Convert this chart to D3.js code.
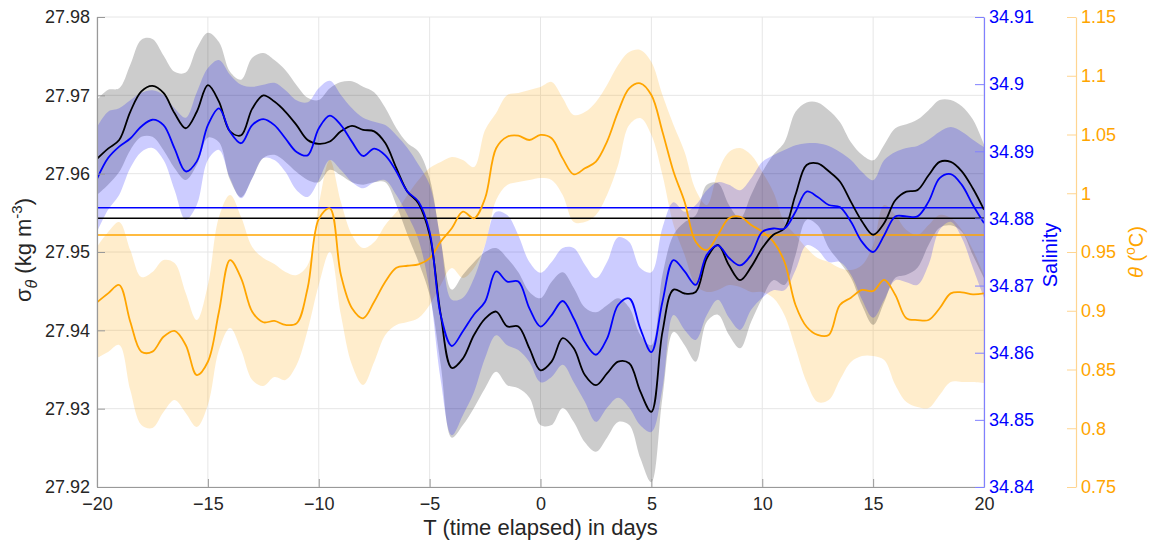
<!DOCTYPE html>
<html>
<head>
<meta charset="utf-8">
<script src="https://cdn.jsdelivr.net/npm/d3@7"></script>
<style>
  body { margin: 0; background: #fff; }
  svg text { font-family: "Liberation Sans", Arial, Helvetica, sans-serif; }
</style>
</head>
<body>
<svg id="chart"></svg>
<script>
// time axis, days relative to event
var days = [
  -20, -19.5, -19, -18.5, -18, -17.5, -17, -16.5, -16, -15.5,
  -15, -14.5, -14, -13.5, -13, -12.5, -12, -11.5, -11, -10.5,
  -10, -9.5, -9, -8.5, -8, -7.5, -7, -6.5, -6, -5.5,
  -5, -4.5, -4, -3.5, -3, -2.5, -2, -1.5, -1, -0.5,
  0, 0.5, 1, 1.5, 2, 2.5, 3, 3.5, 4, 4.5,
  5, 5.5, 6, 6.5, 7, 7.5, 8, 8.5, 9, 9.5,
  10, 10.5, 11, 11.5, 12, 12.5, 13, 13.5, 14, 14.5,
  15, 15.5, 16, 16.5, 17, 17.5, 18, 18.5, 19, 19.5,
  20
];

// potential density sigma_theta (kg m-3)
var sigmaMean = [
  27.9619, 27.9632, 27.9643, 27.9679, 27.9705, 27.9712, 27.9703, 27.9677, 27.9658, 27.9679,
  27.9713, 27.9692, 27.9654, 27.9649, 27.9683, 27.9700, 27.9692, 27.9679, 27.9662, 27.9643,
  27.9638, 27.9641, 27.9654, 27.9661, 27.9656, 27.9654, 27.9639, 27.9607, 27.9577, 27.9562,
  27.9522, 27.9420, 27.9352, 27.9364, 27.9394, 27.9415, 27.9424, 27.9405, 27.9405, 27.9377,
  27.9349, 27.9360, 27.9390, 27.9377, 27.9343, 27.9330, 27.9345, 27.9360, 27.9358, 27.9322,
  27.9296, 27.9398, 27.9452, 27.9447, 27.9449, 27.9492, 27.9509, 27.9483, 27.9464, 27.9481,
  27.9505, 27.9522, 27.9530, 27.9573, 27.9611, 27.9613, 27.9603, 27.9590, 27.9564, 27.9539,
  27.9522, 27.9537, 27.9566, 27.9577, 27.9579, 27.9598, 27.9615, 27.9615, 27.9603, 27.9581,
  27.9554
];
var sigmaHi = [
  27.9694, 27.9707, 27.9709, 27.9739, 27.9771, 27.9772, 27.9751, 27.9730, 27.9729, 27.9760,
  27.9780, 27.9768, 27.9730, 27.9720, 27.9748, 27.9754, 27.9745, 27.9732, 27.9713, 27.9697,
  27.9694, 27.9709, 27.9717, 27.9718, 27.9711, 27.9704, 27.9684, 27.9658, 27.9639, 27.9628,
  27.9594, 27.9515, 27.9452, 27.9471, 27.9487, 27.9500, 27.9505, 27.9492, 27.9474, 27.9449,
  27.9441, 27.9462, 27.9474, 27.9454, 27.9429, 27.9423, 27.9432, 27.9441, 27.9429, 27.9394,
  27.9381, 27.9471, 27.9522, 27.9538, 27.9547, 27.9586, 27.9588, 27.9560, 27.9543, 27.9573,
  27.9602, 27.9624, 27.9640, 27.9679, 27.9691, 27.9691, 27.9681, 27.9666, 27.9640, 27.9624,
  27.9617, 27.9637, 27.9658, 27.9663, 27.9669, 27.9681, 27.9694, 27.9694, 27.9686, 27.9669,
  27.9637
];
var sigmaLo = [
  27.9573, 27.9586, 27.9602, 27.9630, 27.9647, 27.9647, 27.9630, 27.9607, 27.9592, 27.9611,
  27.9646, 27.9640, 27.9592, 27.9570, 27.9594, 27.9620, 27.9624, 27.9615, 27.9602, 27.9592,
  27.9589, 27.9605, 27.9598, 27.9589, 27.9586, 27.9589, 27.9589, 27.9560, 27.9522, 27.9487,
  27.9445, 27.9356, 27.9263, 27.9279, 27.9301, 27.9326, 27.9347, 27.9330, 27.9326, 27.9314,
  27.9279, 27.9279, 27.9301, 27.9283, 27.9257, 27.9245, 27.9263, 27.9283, 27.9279, 27.9237,
  27.9206, 27.9314, 27.9398, 27.9381, 27.9360, 27.9411, 27.9420, 27.9394, 27.9377, 27.9411,
  27.9441, 27.9464, 27.9458, 27.9496, 27.9541, 27.9534, 27.9505, 27.9487, 27.9467, 27.9432,
  27.9407, 27.9436, 27.9467, 27.9471, 27.9480, 27.9509, 27.9531, 27.9534, 27.9526, 27.9496,
  27.9467
];

// salinity
var salMean = [
  34.8859, 34.8890, 34.8907, 34.8919, 34.8937, 34.8947, 34.8939, 34.8904, 34.8870, 34.8885,
  34.8939, 34.8964, 34.8929, 34.8912, 34.8939, 34.8948, 34.8939, 34.8919, 34.8899, 34.8894,
  34.8934, 34.8953, 34.8939, 34.8914, 34.8893, 34.8904, 34.8894, 34.8870, 34.8840, 34.8825,
  34.8780, 34.8656, 34.8610, 34.8632, 34.8657, 34.8676, 34.8721, 34.8706, 34.8706, 34.8666,
  34.8639, 34.8656, 34.8677, 34.8651, 34.8616, 34.8597, 34.8621, 34.8671, 34.8681, 34.8636,
  34.8601, 34.8676, 34.8738, 34.8721, 34.8701, 34.8746, 34.8760, 34.8741, 34.8730, 34.8746,
  34.8780, 34.8785, 34.8785, 34.8810, 34.8840, 34.8832, 34.8820, 34.8817, 34.8795, 34.8765,
  34.8750, 34.8775, 34.8803, 34.8803, 34.8803, 34.8825, 34.8860, 34.8866, 34.8850, 34.8820,
  34.8793
];
var salHi = [
  34.8936, 34.8959, 34.8964, 34.8976, 34.8987, 34.8991, 34.8984, 34.8964, 34.8950, 34.8988,
  34.9024, 34.9036, 34.9014, 34.8999, 34.8996, 34.8999, 34.9002, 34.8991, 34.8976, 34.8973,
  34.8994, 34.9005, 34.8984, 34.8964, 34.8950, 34.8944, 34.8939, 34.8924, 34.8905, 34.8880,
  34.8850, 34.8768, 34.8679, 34.8682, 34.8711, 34.8760, 34.8810, 34.8805, 34.8775, 34.8735,
  34.8719, 34.8735, 34.8756, 34.8756, 34.8731, 34.8711, 34.8735, 34.8772, 34.8765, 34.8726,
  34.8720, 34.8786, 34.8824, 34.8810, 34.8820, 34.8842, 34.8854, 34.8850, 34.8842, 34.8860,
  34.8884, 34.8894, 34.8902, 34.8909, 34.8912, 34.8912, 34.8908, 34.8899, 34.8887, 34.8869,
  34.8857, 34.8887, 34.8899, 34.8905, 34.8908, 34.8917, 34.8929, 34.8936, 34.8929, 34.8917,
  34.8906
];
var salLo = [
  34.8780, 34.8813, 34.8835, 34.8875, 34.8899, 34.8905, 34.8887, 34.8842, 34.8798, 34.8820,
  34.8887, 34.8902, 34.8860, 34.8830, 34.8860, 34.8890, 34.8887, 34.8869, 34.8842, 34.8832,
  34.8857, 34.8887, 34.8872, 34.8854, 34.8845, 34.8854, 34.8857, 34.8835, 34.8805, 34.8768,
  34.8693, 34.8559, 34.8477, 34.8507, 34.8541, 34.8592, 34.8626, 34.8611, 34.8604, 34.8586,
  34.8556, 34.8564, 34.8582, 34.8556, 34.8527, 34.8497, 34.8518, 34.8533, 34.8518, 34.8492,
  34.8482, 34.8547, 34.8656, 34.8634, 34.8619, 34.8656, 34.8679, 34.8652, 34.8634, 34.8664,
  34.8682, 34.8693, 34.8693, 34.8723, 34.8760, 34.8753, 34.8735, 34.8735, 34.8716, 34.8679,
  34.8652, 34.8679, 34.8708, 34.8705, 34.8701, 34.8731, 34.8783, 34.8795, 34.8771, 34.8726,
  34.8682
];

// potential temperature theta (degC)
var thetaMean = [
  0.9072, 0.9148, 0.9219, 0.8907, 0.8652, 0.8652, 0.8779, 0.8828, 0.8709, 0.8453,
  0.8566, 0.8992, 0.9430, 0.9276, 0.8992, 0.8902, 0.8913, 0.8879, 0.8893, 0.9194,
  0.9780, 0.9872, 0.9304, 0.9021, 0.8936, 0.9077, 0.9247, 0.9366, 0.9383, 0.9395,
  0.9446, 0.9588, 0.9702, 0.9843, 0.9787, 0.9957, 1.0383, 1.0481, 1.0490, 1.0453,
  1.0496, 1.0468, 1.0297, 1.0161, 1.0212, 1.0269, 1.0439, 1.0694, 1.0893, 1.0936,
  1.0836, 1.0524, 1.0183, 0.9926, 0.9588, 0.9517, 0.9645, 0.9787, 0.9800, 0.9730,
  0.9673, 0.9588, 0.9417, 0.9049, 0.8864, 0.8794, 0.8794, 0.9049, 0.9111, 0.9177,
  0.9168, 0.9262, 0.9134, 0.8936, 0.8921, 0.8921, 0.9021, 0.9148, 0.9157, 0.9140,
  0.9148
];
var thetaHi = [
  0.9543, 0.9670, 0.9755, 0.9517, 0.9287, 0.9330, 0.9432, 0.9406, 0.9151, 0.8921,
  0.9219, 0.9798, 0.9985, 0.9798, 0.9543, 0.9449, 0.9398, 0.9330, 0.9304, 0.9389,
  0.9900, 1.0283, 0.9926, 0.9645, 0.9534, 0.9585, 0.9730, 0.9840, 0.9985, 1.0113,
  1.0215, 1.0266, 1.0309, 1.0283, 1.0223, 1.0538, 1.0683, 1.0836, 1.0853, 1.0879,
  1.0904, 1.0947, 1.0811, 1.0666, 1.0691, 1.0777, 1.0921, 1.1091, 1.1202, 1.1219,
  1.1117, 1.0836, 1.0581, 1.0351, 1.0028, 0.9900, 1.0181, 1.0351, 1.0385, 1.0326,
  1.0181, 1.0011, 0.9755, 0.9645, 0.9534, 0.9449, 0.9415, 0.9364, 0.9347, 0.9389,
  0.9560, 0.9900, 0.9815, 0.9687, 0.9645, 0.9730, 0.9815, 0.9789, 0.9687, 0.9517,
  0.9304
];
var thetaLo = [
  0.8598, 0.8649, 0.8709, 0.8326, 0.8028, 0.8002, 0.8138, 0.8240, 0.8130, 0.8011,
  0.8198, 0.8666, 0.8853, 0.8666, 0.8411, 0.8360, 0.8436, 0.8411, 0.8538, 0.8836,
  0.9219, 0.9500, 0.8964, 0.8538, 0.8368, 0.8564, 0.8794, 0.8879, 0.8904, 0.8938,
  0.9049, 0.9219, 0.9364, 0.9279, 0.9364, 0.9560, 0.9943, 1.0070, 1.0096, 1.0113,
  1.0130, 1.0113, 0.9985, 0.9755, 0.9755, 0.9815, 0.9985, 1.0240, 1.0581, 1.0640,
  1.0496, 1.0155, 0.9730, 0.9474, 0.9219, 0.9160, 0.9177, 0.9219, 0.9202, 0.9160,
  0.9160, 0.9109, 0.8964, 0.8683, 0.8394, 0.8223, 0.8240, 0.8411, 0.8564, 0.8615,
  0.8615, 0.8581, 0.8368, 0.8223, 0.8181, 0.8172, 0.8283, 0.8394, 0.8394, 0.8394,
  0.8385
];

// reference (whole-record mean) levels
var sigmaRef = 27.9543;
var salRef = 34.8816;
var thetaRef = 0.9645;

var dayTicks = [-20, -15, -10, -5, 0, 5, 10, 15, 20];
var sigmaTicks = [27.92, 27.93, 27.94, 27.95, 27.96, 27.97, 27.98];
var salTicks = [34.84, 34.85, 34.86, 34.87, 34.88, 34.89, 34.9, 34.91];
var thetaTicks = [0.75, 0.8, 0.85, 0.9, 0.95, 1, 1.05, 1.1, 1.15];

var width = 1149,
    height = 543;
var plot = { left: 97, right: 984, top: 17, bottom: 487 };
var thetaAxisX = 1076;

var svg = d3.select("#chart")
  .attr("width", width)
  .attr("height", height);

var x = d3.scaleLinear().domain([-20, 20]).range([plot.left, plot.right]);
var ySigma = d3.scaleLinear().domain([27.92, 27.98]).range([plot.bottom, plot.top]);
var ySal = d3.scaleLinear().domain([34.84, 34.91]).range([plot.bottom, plot.top]);
var yTheta = d3.scaleLinear().domain([0.75, 1.15]).range([plot.bottom, plot.top]);

var trimNum = function(v) { return String(+v.toFixed(2)); };

function series(mean, lo, hi) {
  return days.map(function(d, i) {
    return { day: d, mean: mean[i], lo: lo[i], hi: hi[i] };
  });
}

var sigmaData = series(sigmaMean, sigmaLo, sigmaHi);
var salData = series(salMean, salLo, salHi);
var thetaData = series(thetaMean, thetaLo, thetaHi);

svg.append("defs").append("clipPath")
    .attr("id", "plot-clip")
  .append("rect")
    .attr("x", plot.left)
    .attr("y", plot.top)
    .attr("width", plot.right - plot.left)
    .attr("height", plot.bottom - plot.top);

// grid
var grid = svg.append("g").attr("class", "grid");
grid.selectAll("line.vg")
  .data(dayTicks)
  .enter().append("line")
    .attr("class", "vg")
    .attr("x1", function(d) { return x(d); })
    .attr("x2", function(d) { return x(d); })
    .attr("y1", plot.top)
    .attr("y2", plot.bottom)
    .attr("stroke", "#e6e6e6");
grid.selectAll("line.hg")
  .data(sigmaTicks)
  .enter().append("line")
    .attr("class", "hg")
    .attr("x1", plot.left)
    .attr("x2", plot.right)
    .attr("y1", function(d) { return ySigma(d); })
    .attr("y2", function(d) { return ySigma(d); })
    .attr("stroke", "#e6e6e6");

var body = svg.append("g").attr("clip-path", "url(#plot-clip)");

function drawBand(data, y, color) {
  var area = d3.area()
    .x(function(d) { return x(d.day); })
    .y0(function(d) { return y(d.lo); })
    .y1(function(d) { return y(d.hi); })
    .curve(d3.curveCatmullRom);
  body.append("path")
    .datum(data)
    .attr("d", area)
    .attr("fill", color)
    .attr("fill-opacity", 0.2)
    .attr("stroke", "none");
}

function drawMean(data, y, color) {
  var line = d3.line()
    .x(function(d) { return x(d.day); })
    .y(function(d) { return y(d.mean); })
    .curve(d3.curveCatmullRom);
  body.append("path")
    .datum(data)
    .attr("d", line)
    .attr("fill", "none")
    .attr("stroke", color)
    .attr("stroke-width", 1.8);
}

function drawRef(value, y, color) {
  body.append("line")
    .attr("x1", plot.left)
    .attr("x2", plot.right)
    .attr("y1", y(value))
    .attr("y2", y(value))
    .attr("stroke", color)
    .attr("stroke-width", 1.6);
}

drawBand(thetaData, yTheta, "#ffa500");
drawBand(sigmaData, ySigma, "#000000");
drawBand(salData, ySal, "#0000ff");

drawRef(thetaRef, yTheta, "#ffa500");
drawRef(sigmaRef, ySigma, "#000000");
drawRef(salRef, ySal, "#0000ff");

drawMean(thetaData, yTheta, "#ffa500");
drawMean(sigmaData, ySigma, "#000000");
drawMean(salData, ySal, "#0000ff");

// axes
function styleAxis(g, lineColor, textColor) {
  g.selectAll("path.domain").attr("stroke", lineColor).attr("stroke-width", 1.2);
  g.selectAll(".tick line").attr("stroke", lineColor);
  g.selectAll(".tick text")
    .attr("fill", textColor)
    .style("font-size", "18px");
}

svg.append("g")
    .attr("transform", "translate(0," + plot.bottom + ")")
    .call(d3.axisBottom(x).tickValues(dayTicks).tickSize(-8).tickSizeOuter(0).tickPadding(10))
    .call(styleAxis, "#999999", "#262626");

svg.append("g")
    .attr("transform", "translate(" + plot.left + ",0)")
    .call(d3.axisLeft(ySigma).tickValues(sigmaTicks).tickFormat(d3.format(".2f"))
      .tickSize(-8).tickSizeOuter(0).tickPadding(7))
    .call(styleAxis, "#999999", "#262626");

svg.append("g")
    .attr("transform", "translate(" + plot.right + ",0)")
    .call(d3.axisRight(ySal).tickValues(salTicks).tickFormat(trimNum)
      .tickSize(-9).tickSizeOuter(0).tickPadding(5))
    .call(styleAxis, "#8080ff", "#0000ff");

svg.append("g")
    .attr("transform", "translate(" + thetaAxisX + ",0)")
    .call(d3.axisRight(yTheta).tickValues(thetaTicks).tickFormat(trimNum)
      .tickSize(-9).tickSizeOuter(0).tickPadding(5))
    .call(styleAxis, "#ffd591", "#ffa500");

// axis titles
svg.append("text")
    .attr("x", (plot.left + plot.right) / 2)
    .attr("y", 535)
    .attr("text-anchor", "middle")
    .attr("fill", "#262626")
    .style("font-size", "22px")
    .text("T (time elapsed) in days");

var sigmaTitle = svg.append("text")
    .attr("transform", "translate(31,250) rotate(-90)")
    .attr("text-anchor", "middle")
    .attr("fill", "#262626")
    .style("font-size", "22px");
sigmaTitle.append("tspan").text("σ");
sigmaTitle.append("tspan").attr("dy", 6).style("font-size", "16px").style("font-style", "italic").text("θ");
sigmaTitle.append("tspan").attr("dy", -6).text(" (kg m");
sigmaTitle.append("tspan").attr("dy", -9).style("font-size", "15px").text("-3");
sigmaTitle.append("tspan").attr("dy", 9).text(")");

svg.append("text")
    .attr("transform", "translate(1057,255) rotate(-90)")
    .attr("text-anchor", "middle")
    .attr("fill", "#0000ff")
    .style("font-size", "20px")
    .text("Salinity");

var thetaTitle = svg.append("text")
    .attr("transform", "translate(1143,252) rotate(-90)")
    .attr("text-anchor", "middle")
    .attr("fill", "#ffa500")
    .style("font-size", "20px");
thetaTitle.append("tspan").style("font-style", "italic").text("θ");
thetaTitle.append("tspan").text(" (");
thetaTitle.append("tspan").attr("dy", -8).style("font-size", "14px").text("o");
thetaTitle.append("tspan").attr("dy", 8).text("C)");
</script>
</body>
</html>
